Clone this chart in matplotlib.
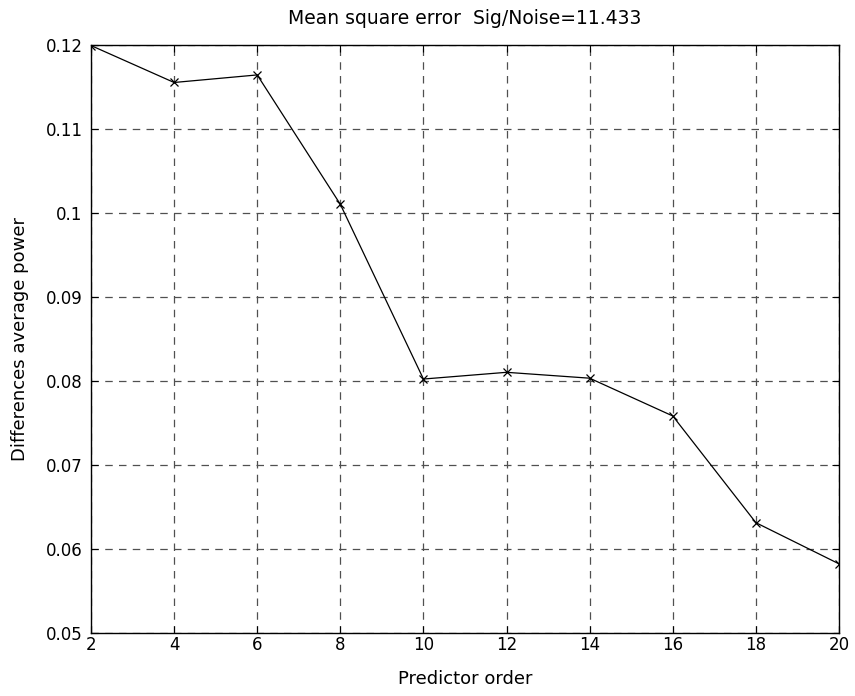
import matplotlib
matplotlib.use("Agg")
import matplotlib.pyplot as plt

plt.rcParams['font.family'] = ['DejaVu Sans']

orders = [2, 4, 6, 8, 10, 12, 14, 16, 18, 20]
mse = [0.1199, 0.1155, 0.1164, 0.1010, 0.0802, 0.0810, 0.0803, 0.0758, 0.0631, 0.0582]
xticks = [2, 4, 6, 8, 10, 12, 14, 16, 18, 20]
yticks = [0.05, 0.06, 0.07, 0.08, 0.09, 0.1, 0.11, 0.12]
yticklabels = ['0.05', '0.06', '0.07', '0.08', '0.09', '0.1', '0.11', '0.12']

fig = plt.figure(figsize=(8.55, 6.96), dpi=100)
ax = fig.add_axes([0.1064, 0.0909, 0.8749, 0.8449])
ax.plot(orders, mse, color='black', linewidth=0.9, marker='x', markersize=6, markeredgewidth=0.9)
ax.set_xlim(2, 20)
ax.set_ylim(0.05, 0.12)
ax.set_xticks(xticks)
ax.set_yticks(yticks)
ax.set_yticklabels(yticklabels)
ax.grid(True, linestyle=(0, (6, 5)), color='#505050', linewidth=0.9)
ax.tick_params(axis='both', direction='in', length=5, labelsize=12, top=True, right=True)
ax.tick_params(axis='x', pad=2)
ax.tick_params(axis='y', pad=6)
for s in ax.spines.values():
    s.set_linewidth(1.0)
ax.set_title('Mean square error  Sig/Noise=11.433', fontsize=13.5, pad=15)
ax.set_xlabel('Predictor order', fontsize=13, labelpad=12)
ax.set_ylabel('Differences average power', fontsize=13, labelpad=12)
fig.savefig('out.png', dpi=100)
